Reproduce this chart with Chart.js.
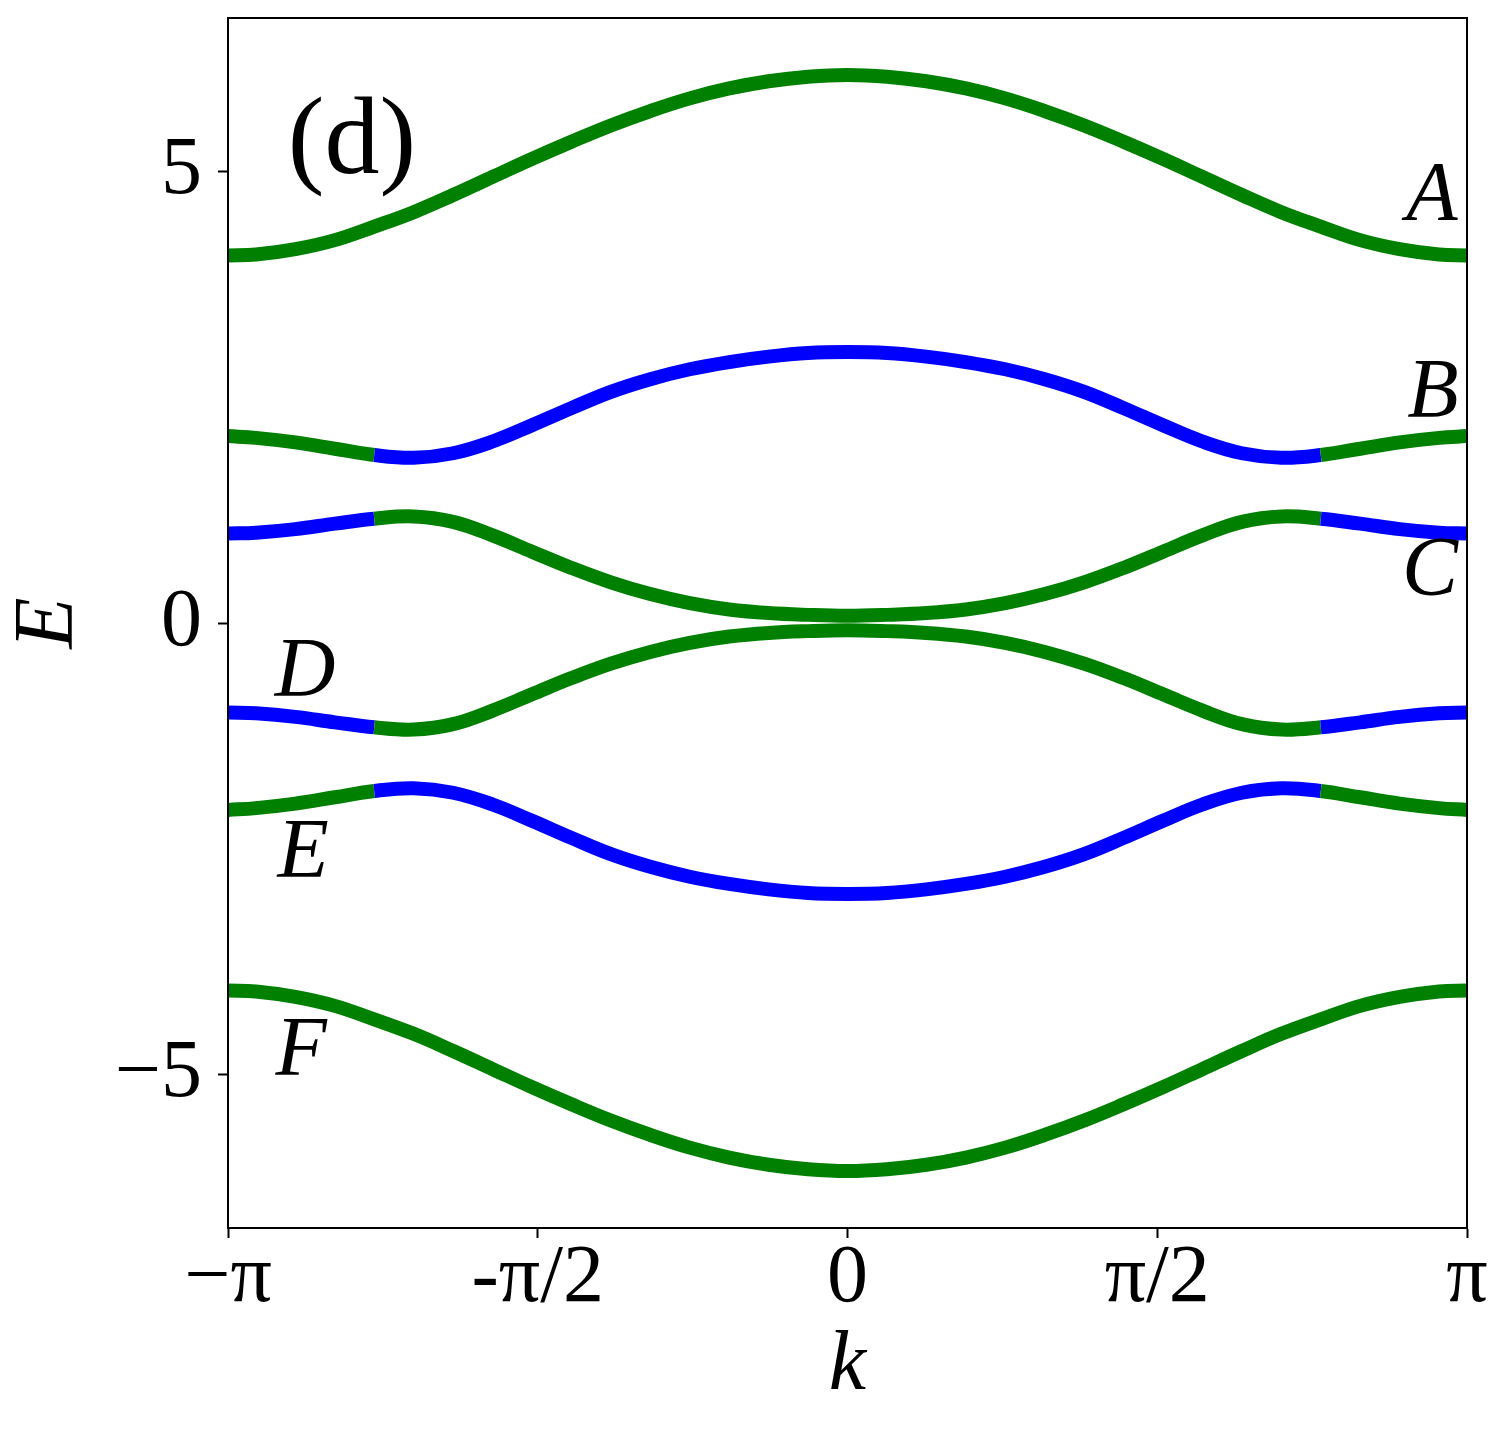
<!DOCTYPE html>
<html>
<head>
<meta charset="utf-8">
<script src="https://cdn.jsdelivr.net/npm/chart.js@4.4.1/dist/chart.umd.min.js"></script>
<style>
html,body{margin:0;padding:0;background:#fff;}
#wrap{width:1510px;height:1435px;}
</style>
</head>
<body>
<div id="wrap"><canvas id="c" width="1510" height="1435"></canvas></div>
<script>
// ---- data ----
const kValues = [-3.1416, -3.0, -2.8, -2.6, -2.4, -2.2, -2.0, -1.8, -1.6, -1.4, -1.2, -1.0, -0.8, -0.6, -0.4, -0.2, 0,
                 0.2, 0.4, 0.6, 0.8, 1.0, 1.2, 1.4, 1.6, 1.8, 2.0, 2.2, 2.4, 2.6, 2.8, 3.0, 3.1416];

const bandA = [4.07, 4.08, 4.14, 4.24, 4.39, 4.55, 4.74, 4.94, 5.14, 5.33, 5.51, 5.67, 5.81, 5.92, 6.00, 6.05, 6.07,
               6.05, 6.00, 5.92, 5.81, 5.67, 5.51, 5.33, 5.14, 4.94, 4.74, 4.55, 4.39, 4.24, 4.14, 4.08, 4.07];
const bandB = [2.07, 2.05, 2.00, 1.93, 1.86, 1.83, 1.88, 2.01, 2.19, 2.38, 2.56, 2.70, 2.81, 2.89, 2.95, 2.99, 3.00,
               2.99, 2.95, 2.89, 2.81, 2.70, 2.56, 2.38, 2.19, 2.01, 1.88, 1.83, 1.86, 1.93, 2.00, 2.05, 2.07];
const bandC = [0.99, 1.00, 1.04, 1.10, 1.155, 1.18, 1.12, 0.97, 0.79, 0.61, 0.45, 0.32, 0.22, 0.15, 0.11, 0.09, 0.08,
               0.09, 0.11, 0.15, 0.22, 0.32, 0.45, 0.61, 0.79, 0.97, 1.12, 1.18, 1.155, 1.10, 1.04, 1.00, 0.99];
const bandD = [-0.99, -1.00, -1.04, -1.10, -1.155, -1.18, -1.12, -0.97, -0.79, -0.61, -0.45, -0.32, -0.22, -0.15, -0.11, -0.09, -0.08,
               -0.09, -0.11, -0.15, -0.22, -0.32, -0.45, -0.61, -0.79, -0.97, -1.12, -1.18, -1.155, -1.10, -1.04, -1.00, -0.99];
const bandE = [-2.07, -2.05, -2.00, -1.93, -1.86, -1.83, -1.88, -2.01, -2.19, -2.38, -2.56, -2.70, -2.81, -2.89, -2.95, -2.99, -3.00,
               -2.99, -2.95, -2.89, -2.81, -2.70, -2.56, -2.38, -2.19, -2.01, -1.88, -1.83, -1.86, -1.93, -2.00, -2.05, -2.07];
const bandF = [-4.07, -4.08, -4.14, -4.24, -4.39, -4.55, -4.74, -4.94, -5.14, -5.33, -5.51, -5.67, -5.81, -5.92, -6.00, -6.05, -6.07,
               -6.05, -6.00, -5.92, -5.81, -5.67, -5.51, -5.33, -5.14, -4.94, -4.74, -4.55, -4.39, -4.24, -4.14, -4.08, -4.07];

// k where the colour of bands B..E switches
const switchK = 2.4;

const xTickValues = [-Math.PI, -Math.PI / 2, 0, Math.PI / 2, Math.PI];
const xTickLabels = ['\u2212\u03c0', '-\u03c0/2', '0', '\u03c0/2', '\u03c0'];
const yTickValues = [-5, 0, 5];
const yTickLabels = ['\u22125', '0', '5'];

const bandLabels = ['A', 'B', 'C', 'D', 'E', 'F'];
const bandLabelK = [2.964, 2.969, 2.954, -2.751, -2.761, -2.771];
const bandLabelE = [4.463, 2.281, 0.310, -0.808, -2.813, -5.006];
const panelLabel = '(d)';
const panelLabelK = -2.513;
const panelLabelE = 4.983;

// ---- styling ----
const GREEN = '#008000';
const BLUE = '#0000ff';
const FONT = '"Liberation Serif", "Times New Roman", serif';

const bands = [bandA, bandB, bandC, bandD, bandE, bandF];
const outerColors = [GREEN, GREEN, BLUE, BLUE, GREEN, GREEN];
const innerColors = [GREEN, BLUE, GREEN, GREEN, BLUE, GREEN];

const datasets = bands.map((vals, bi) => ({
  label: bandLabels[bi],
  data: kValues.map((k, i) => ({x: k, y: vals[i]})),
  borderColor: outerColors[bi],
  borderWidth: 14,
  borderCapStyle: 'butt',
  borderJoinStyle: 'round',
  pointRadius: 0,
  fill: false,
  clip: 0,
  tension: 0.4,
  segment: {
    borderColor: ctx => Math.abs((ctx.p0.parsed.x + ctx.p1.parsed.x) / 2) > switchK ? outerColors[bi] : innerColors[bi]
  }
}));

const framePlugin = {
  id: 'frameAndLabels',
  afterDatasetsDraw(chart) {
    const {ctx, chartArea: a, scales} = chart;
    ctx.save();
    ctx.strokeStyle = '#000';
    ctx.lineWidth = 2;
    ctx.strokeRect(a.left, a.top, a.right - a.left, a.bottom - a.top);
    ctx.fillStyle = '#000';
    ctx.textAlign = 'center';
    ctx.textBaseline = 'alphabetic';
    ctx.font = 'italic 84px ' + FONT;
    bandLabels.forEach((t, i) => {
      ctx.fillText(t, scales.x.getPixelForValue(bandLabelK[i]), scales.y.getPixelForValue(bandLabelE[i]));
    });
    ctx.font = '110px ' + FONT;
    ctx.fillText(panelLabel, scales.x.getPixelForValue(panelLabelK), scales.y.getPixelForValue(panelLabelE));
    ctx.restore();
  }
};

new Chart(document.getElementById('c'), {
  type: 'line',
  data: {datasets},
  plugins: [framePlugin],
  options: {
    responsive: false,
    animation: false,
    devicePixelRatio: 1,
    layout: {padding: {top: 18, right: 43, left: 0, bottom: 0}},
    plugins: {legend: {display: false}, tooltip: {enabled: false}},
    scales: {
      x: {
        type: 'linear',
        min: -Math.PI,
        max: Math.PI,
        afterBuildTicks: s => { s.ticks = xTickValues.map(v => ({value: v})); },
        afterFit: s => { s.height = 207; s.paddingLeft = 0; s.paddingRight = 0; },
        ticks: {
          autoSkip: false,
          maxRotation: 0,
          padding: 0,
          color: '#000',
          font: {family: FONT, size: 82, lineHeight: 1},
          callback: (v, i) => xTickLabels[i]
        },
        grid: {display: true, drawOnChartArea: false, drawTicks: true, tickLength: 10, tickWidth: 2, tickColor: '#000'},
        border: {display: true, color: '#000', width: 2},
        title: {display: true, text: 'k', color: '#000', font: {family: FONT, size: 84, style: 'italic', lineHeight: 1.2}, padding: {top: 0, bottom: 18}}
      },
      y: {
        type: 'linear',
        min: -6.7,
        max: 6.7,
        afterBuildTicks: s => { s.ticks = yTickValues.map(v => ({value: v})); },
        afterFit: s => { s.width = 228; s.paddingTop = 0; s.paddingBottom = 0; },
        ticks: {
          autoSkip: false,
          padding: 16,
          color: '#000',
          font: {family: FONT, size: 82, lineHeight: 1},
          callback: (v, i) => yTickLabels[i]
        },
        grid: {display: true, drawOnChartArea: false, drawTicks: true, tickLength: 10, tickWidth: 2, tickColor: '#000'},
        border: {display: true, color: '#000', width: 2},
        title: {display: true, text: 'E', color: '#000', font: {family: FONT, size: 84, style: 'italic', lineHeight: 1.2}, padding: {top: 0, bottom: 0}}
      }
    }
  }
});
</script>
</body>
</html>
